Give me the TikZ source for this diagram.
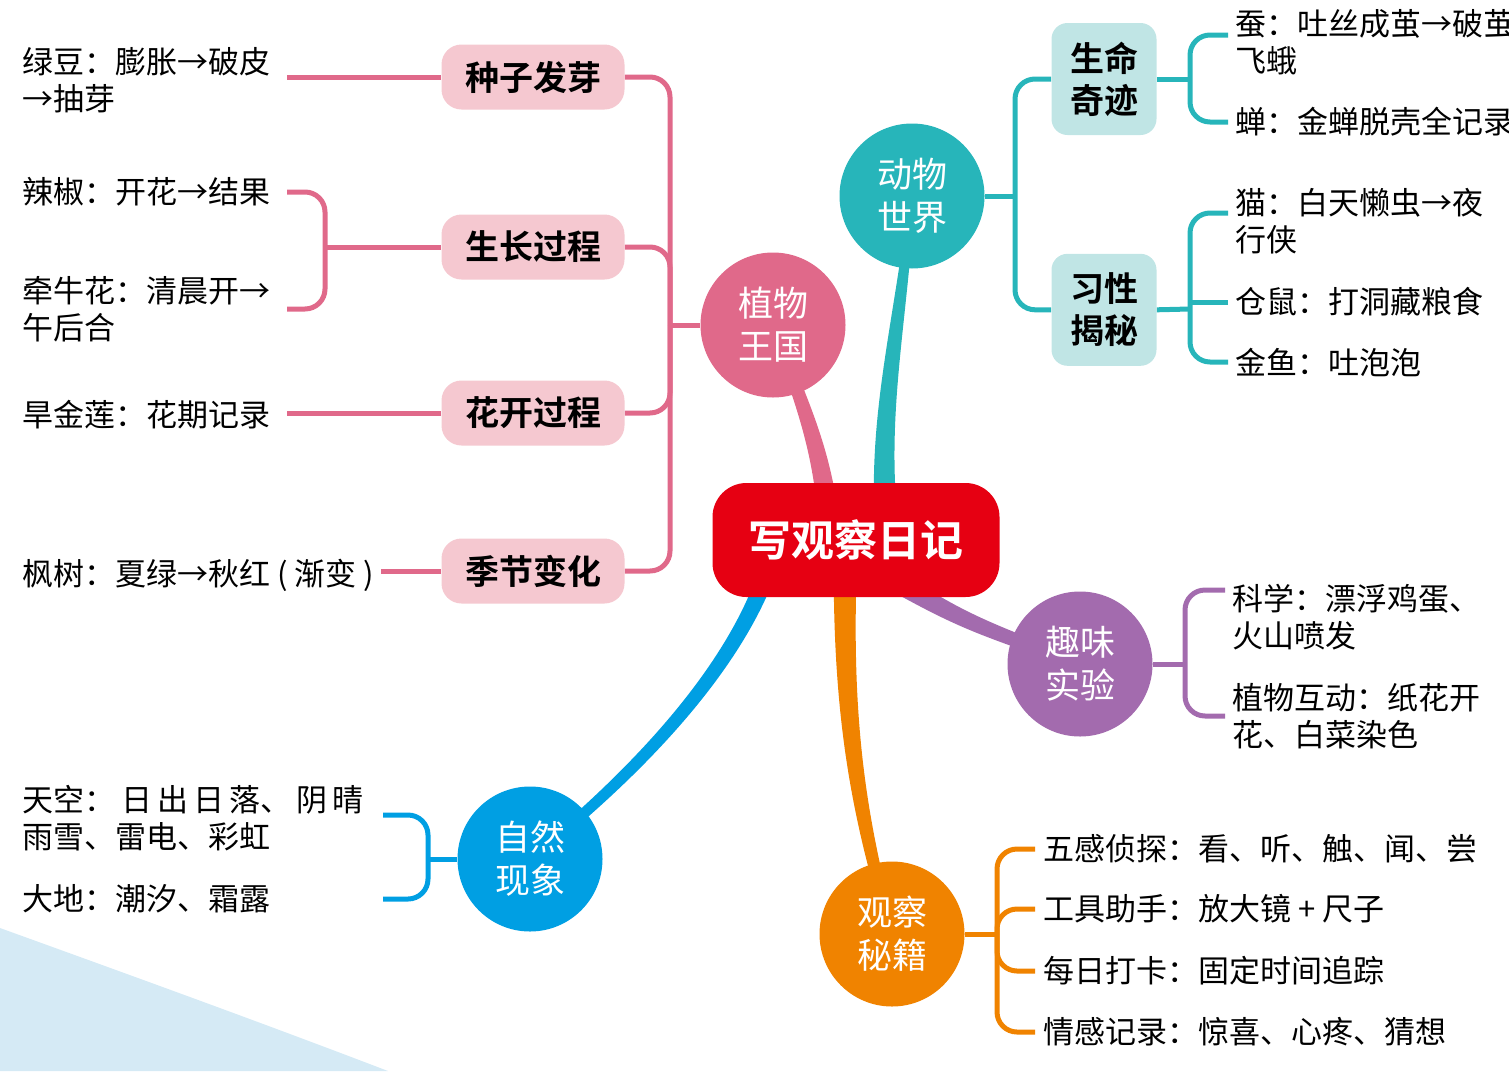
\documentclass[tikz,border=0pt]{standalone}
\usepackage{fontspec}
\setmainfont{Noto Sans CJK SC}[BoldFont={Noto Sans CJK SC Bold}]
\usepackage{tikz}
\usetikzlibrary{positioning, calc, backgrounds}

\definecolor{hubred}{HTML}{E60012}
\definecolor{plantc}{HTML}{E0698A}
\definecolor{plantbg}{HTML}{F5C8D0}
\definecolor{animalc}{HTML}{27B5BA}
\definecolor{animalbg}{HTML}{C0E5E5}
\definecolor{func}{HTML}{A36BAE}
\definecolor{tipc}{HTML}{F08300}
\definecolor{skyc}{HTML}{009FE3}
\definecolor{wavebg}{HTML}{D5EAF5}

\tikzset{
    hub/.style={
        rectangle,
        rounded corners=17pt,
        fill=hubred,
        text=white,
        font=\bfseries\fontsize{21.5}{26}\selectfont,
        minimum width=143.5pt,
        minimum height=57pt
    },
    topic/.style={
        circle,
        minimum size=72.5pt,
        inner sep=0pt,
        text=white,
        align=center,
        font=\fontsize{17.5}{21.5}\selectfont
    },
    sub/.style={
        rectangle,
        rounded corners=10pt,
        align=center,
        font=\bfseries\fontsize{17}{21}\selectfont
    },
    leaf/.style={
        anchor=west,
        align=left,
        inner sep=0pt,
        font=\fontsize{15.5}{18.5}\selectfont
    },
    twig/.style={
        line width=2.5pt,
        rounded corners=10pt
    }
}

\begin{document}
\begin{tikzpicture}[x=0.5pt, y=-0.5pt]
    \useasboundingbox (0,0) rectangle (1509,1071);
    \clip (0,0) rectangle (1509,1071);
    \fill[wavebg] (0,928) .. controls (130,975) and (260,1022) .. (388,1071) -- (0,1071) -- cycle;

    % centre and main topics
    \node[hub] (diary) at (856,540) {写观察日记};
    \node[topic, fill=plantc] (plant) at (773,325) {植物\\王国};
    \node[topic, fill=animalc] (animal) at (912,196) {动物\\世界};
    \node[topic, fill=func] (fun) at (1080,664) {趣味\\实验};
    \node[topic, fill=tipc] (tips) at (892,934) {观察\\秘籍};
    \node[topic, fill=skyc] (nature) at (530,859) {自然\\现象};

    % tapered trunks, thick at the centre
    \begin{pgfonlayer}{background}
        \fill[plantc] ($(plant.center)+(-5,0)$) .. controls (793,400) and (816,450) .. ($(diary.center)+(-37,0)$)
            -- ($(diary.center)+(-15,0)$) .. controls (834,450) and (807,400) .. ($(plant.center)+(5,0)$) -- cycle;
        \fill[animalc] ($(animal.center)+(-3,0)$) .. controls (893,330) and (866,420) .. ($(diary.center)+(20,0)$)
            -- ($(diary.center)+(44,0)$) .. controls (884,420) and (907,330) .. ($(animal.center)+(3,0)$) -- cycle;
        \fill[func] ($(diary.center)+(-6,28)$) .. controls (956,627) .. ($(fun.center)+(-3,5)$)
            -- ($(fun.center)+(3,-5)$) .. controls (964,613) .. ($(diary.center)+(6,8)$) -- cycle;
        \fill[tipc] ($(diary.center)+(-22,0)$) .. controls (831,720) and (853,820) .. ($(tips.center)+(-5,0)$)
            -- ($(tips.center)+(5,0)$) .. controls (867,820) and (849,720) .. ($(diary.center)+(2,0)$) -- cycle;
        \fill[skyc] ($(diary.center)+(-72,6)$) .. controls (766,624) and (695,734) .. ($(nature.center)+(4,3)$)
            -- ($(nature.center)+(-4,-3)$) .. controls (685,726) and (754,616) .. ($(diary.center)+(-88,-6)$) -- cycle;
    \end{pgfonlayer}

    % plants
    \node[sub, fill=plantbg, minimum width=91.5pt, minimum height=32.5pt] (seed) at (533,77) {种子发芽};
    \node[sub, fill=plantbg, minimum width=91.5pt, minimum height=32.5pt] (grow) at (533,247) {生长过程};
    \node[sub, fill=plantbg, minimum width=91.5pt, minimum height=32.5pt] (bloom) at (533,413) {花开过程};
    \node[sub, fill=plantbg, minimum width=91.5pt, minimum height=32.5pt] (season) at (533,571) {季节变化};

    \node[leaf] (bean) at (22,80) {绿豆：膨胀→破皮\\→抽芽};
    \node[leaf] (chili) at (22,192) {辣椒：开花→结果};
    \node[leaf] (glory) at (22,309) {牵牛花：清晨开→\\午后合};
    \node[leaf] (nastur) at (22,415) {旱金莲：花期记录};
    \node[leaf] (maple) at (22,575) {枫树：夏绿→秋红 ( 渐变 )};

    \coordinate (pknot) at (670,325);
    \coordinate (pcol) at (287,0);
    \coordinate (gknot) at (325,247);
    \draw[twig, plantc] (seed.east) -| (pknot) |- (season.east);
    \draw[twig, plantc] (grow.east) -| (pknot);
    \draw[twig, plantc] (bloom.east) -| (pknot);
    \draw[twig, plantc] (pknot) -- (plant);
    \draw[twig, plantc] (seed.west) -- (seed.west -| pcol);
    \draw[twig, plantc] (grow.west) -- (gknot);
    \draw[twig, plantc] (pcol |- chili.east) -| (gknot) |- (pcol |- glory.east);
    \draw[twig, plantc] (bloom.west) -- (bloom.west -| pcol);
    \draw[twig, plantc] (season.west) -- ([xshift=3pt]season.west -| maple.east);

    % animals
    \node[sub, fill=animalbg, minimum width=52.5pt, minimum height=56pt, rounded corners=8pt] (life) at (1104,79) {生命\\奇迹};
    \node[sub, fill=animalbg, minimum width=52.5pt, minimum height=56pt, rounded corners=8pt, below=59pt of life] (habit) {习性\\揭秘};

    \node[leaf] (silk) at (1235,42) {蚕：吐丝成茧→破茧\\飞蛾};
    \node[leaf] (cicada) at (1235,122) {蝉：金蝉脱壳全记录};
    \node[leaf] (cat) at (1235,221) {猫：白天懒虫→夜\\行侠};
    \node[leaf] (hamster) at (1235,302) {仓鼠：打洞藏粮食};
    \node[leaf] (fish) at (1235,362) {金鱼：吐泡泡};

    \coordinate (aknot) at (1015,196);
    \coordinate (lknot) at (1190,79);
    \coordinate (hknot) at (1190,309);
    \draw[twig, animalc] (animal.east) -- (aknot);
    \draw[twig, animalc] (life.west) -| (aknot) |- (habit.west);
    \draw[twig, animalc] (life.east) -- (lknot);
    \draw[twig, animalc] ([xshift=-3.5pt, yshift=3.5pt]silk.west) -| (lknot) |- ([xshift=-3.5pt]cicada.west);
    \draw[twig, animalc] (habit.east) -- (hknot);
    \draw[twig, animalc] ([xshift=-3.5pt, yshift=4pt]cat.west) -| (hknot) |- ([xshift=-3.5pt]fish.west);
    \draw[twig, animalc] ([xshift=-3.5pt]hamster.west) -- (hamster.west -| hknot);

    % experiments
    \node[leaf] (science) at (1232,617) {科学：漂浮鸡蛋、\\火山喷发};
    \node[leaf] (plantfun) at (1232,716) {植物互动：纸花开\\花、白菜染色};

    \coordinate (fknot) at (1185,664);
    \draw[twig, func] (fun.east) -- (fknot);
    \draw[twig, func] ([xshift=-3.5pt, yshift=13.5pt]science.west) -| (fknot) |- ([xshift=-3.5pt]plantfun.west);

    % tips
    \node[leaf] (senses) at (1043,849) {五感侦探：看、听、触、闻、尝};
    \node[leaf] (tools) at (1043,909) {工具助手：放大镜 + 尺子};
    \node[leaf] (daily) at (1043,971) {每日打卡：固定时间追踪};
    \node[leaf] (feeling) at (1043,1032) {情感记录：惊喜、心疼、猜想};

    \coordinate (tknot) at (997,934);
    \draw[twig, tipc] (tips.east) -- (tknot);
    \draw[twig, tipc] ([xshift=-4pt]senses.west) -| (tknot) |- ([xshift=-4pt]feeling.west);
    \draw[twig, tipc] ([xshift=-4pt]tools.west) -| (tknot);
    \draw[twig, tipc] ([xshift=-4pt]daily.west) -| (tknot);

    % nature
    \node[leaf] (sky) at (22,818) {天空：\hspace{3pt}日\hspace{2.5pt}出\hspace{2.5pt}日\hspace{2.5pt}落、\hspace{2.5pt}阴\hspace{2.5pt}晴\\雨雪、雷电、彩虹};
    \node[leaf] (earth) at (22,899) {大地：潮汐、霜露};

    \coordinate (nknot) at (428,859);
    \coordinate (ncol) at (383,0);
    \draw[twig, skyc] (nature.west) -- (nknot);
    \draw[twig, skyc] ($(ncol |- sky.east)+(0,-3)$) -| (nknot) |- (ncol |- earth.east);
\end{tikzpicture}
\end{document}
